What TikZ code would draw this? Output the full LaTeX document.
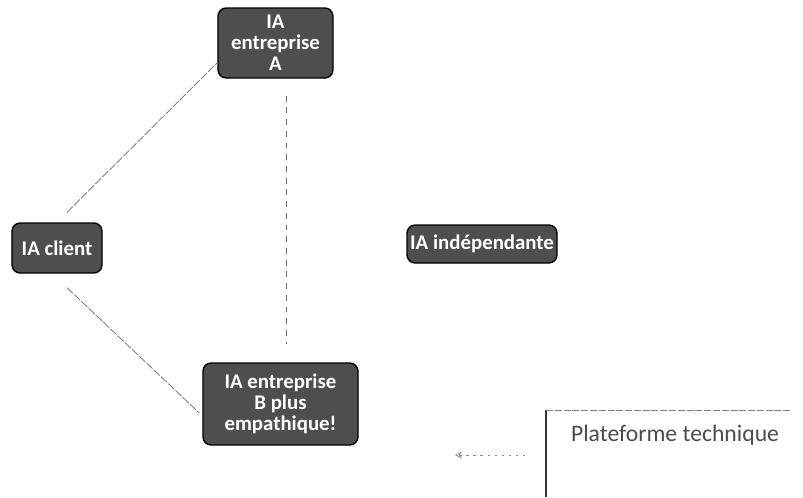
\documentclass[tikz,border=0pt]{standalone}
\usepackage{fontspec}
\setmainfont{Carlito}
\usetikzlibrary{arrows.meta}
\definecolor{boxfill}{HTML}{4E4E4E}
\definecolor{linegray}{HTML}{6A6A6A}
\begin{document}
\begin{tikzpicture}[x=0.03cm,y=-0.03cm,
  iabox/.style={draw=black,line width=1.2pt,fill=boxfill,rounded corners=7pt,
    text=white,font=\fontsize{17.8}{18}\selectfont\bfseries,align=center,inner sep=2pt},
  conn/.style={draw=linegray,line width=0.6pt,dash pattern=on 7pt off 1.5pt},
  vdash/.style={draw=linegray,line width=0.7pt,dash pattern=on 5pt off 5pt},
  plattext/.style={text=black!70,font=\fontsize{20.2}{22}\selectfont},
  arr/.style={draw=black!45,line width=0.6pt,dash pattern=on 2pt off 4pt,-{Stealth[length=6pt,width=6pt,open]}}
]
\useasboundingbox (0,0) rectangle (803,497);
\node[iabox,minimum width=3.45cm,minimum height=2.1cm] (A) at (275.5,43) {IA\\entreprise\\A};
\node[iabox,minimum width=2.7cm,minimum height=1.5cm] (client) at (57,248) {IA client};
\node[iabox,minimum width=4.5cm,minimum height=1.14cm] (indep) at (482,244) {IA indépendante};
\node[iabox,minimum width=4.65cm,minimum height=2.46cm] (B) at (280.5,404) {IA entreprise\\B plus\\empathique!};
\node[plattext] (plat) at (675,435) {Plateforme technique};
% platform box edges
\coordinate (pbl) at (546,497);
\coordinate (ptl) at (546,410);
\coordinate (ptr) at (792,410);
\draw[black!80,line width=1.1pt] (pbl) -- (ptl);
\draw[black!50,line width=0.6pt,dash pattern=on 6pt off 1.5pt] (ptl) -- (ptr);
% connectors
\path (client.north) ++(10,-10) coordinate (c1);
\path (A.south west) ++(0,-16) coordinate (a1);
\draw[conn] (c1) -- (a1);
\path (client.south) ++(10,14) coordinate (c2);
\path (B.west) ++(-3,9) coordinate (b1);
\draw[conn] (c2) -- (b1);
\path (A.south) ++(10.5,17) coordinate (a2);
\path (B.north) ++(5.5,-18) coordinate (b2);
\draw[vdash] (a2) -- (b2);
\path (ptl) ++(-21,45) coordinate (arrs);
\path (arrs) ++(-70,0) coordinate (arre);
\draw[arr] (arrs) -- (arre);
\end{tikzpicture}
\end{document}
